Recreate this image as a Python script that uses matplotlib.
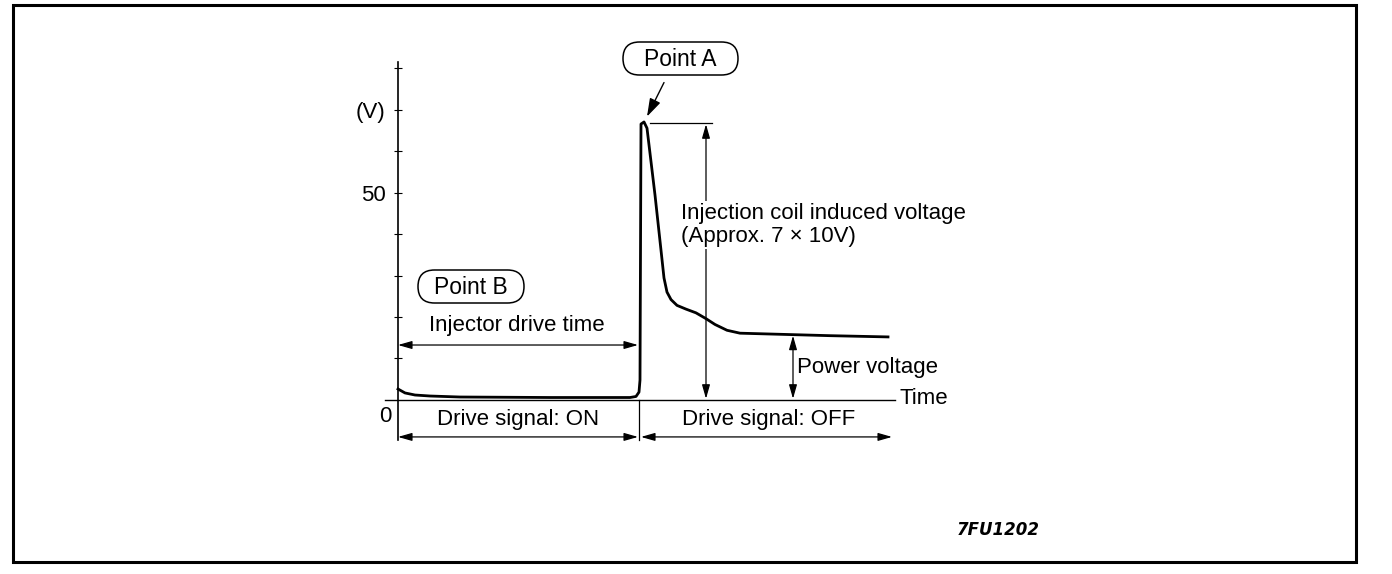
import matplotlib
matplotlib.use('Agg')
import matplotlib.pyplot as plt
from matplotlib.patches import FancyBboxPatch, Rectangle
from matplotlib.transforms import IdentityTransform

plt.rcParams['font.family'] = ['Liberation Sans', 'DejaVu Sans']

W, H = 1392, 574

# injector voltage waveform (time in arbitrary units, volts)
time_pts = [0, 0.7, 1.7, 3.2, 6.2, 15.2, 23.2, 23.8, 24.1, 24.2, 24.3, 24.6,
            24.9, 25.7, 26.3, 26.6, 26.9, 27.3, 27.9, 28.8, 29.8, 30.8, 31.7,
            32.9, 34.2, 37.2, 43.2, 49.0]
volts = [2.65, 1.7, 1.2, 0.96, 0.72, 0.6, 0.6, 0.85, 1.9, 4.8, 66.5, 67.0,
         65.5, 49.4, 36.1, 29.4, 26.0, 24.2, 22.8, 21.9, 21.0, 19.6, 18.2,
         16.8, 16.1, 15.9, 15.5, 15.2]

y_ticks = [10, 20, 30, 40, 50, 60, 70, 80]
y_labels = ['', '', '', '', '50', '', '(V)', '']

on_end = 24.0       # end of drive signal ON
off_end = 49.7
peak_v = 66.75
power_v = 15.8
power_t = 39.5
coil_t = 30.8


def fx(x):
    return x / W


def fy(y):
    return 1 - y / H


fig = plt.figure(figsize=(W / 100, H / 100), dpi=100)

# outer frame
fig.add_artist(Rectangle((12.5, H - 561.5), 1343, 557, transform=IdentityTransform(),
                         fill=False, lw=2.2, edgecolor='black'))

ax = fig.add_axes([fx(385), fy(440), 510 / W, 378 / H])
ax.set_xlim(-1.3, 49.7)
ax.set_ylim(-9.64, 81.45)
ax.patch.set_visible(False)
for s in ['top', 'right']:
    ax.spines[s].set_visible(False)
ax.spines['left'].set_position(('data', 0))
ax.spines['bottom'].set_position(('data', 0))
ax.spines['left'].set_linewidth(1.2)
ax.spines['bottom'].set_linewidth(1.0)
ax.set_xticks([])
ax.set_yticks(y_ticks)
ax.set_yticklabels(y_labels, fontsize=16)
ax.tick_params(axis='y', direction='inout', length=6, width=0.8, pad=6)

ax.plot(time_pts, volts, color='black', lw=2.0, solid_joinstyle='round', clip_on=False)


def dim(x0, y0, x1, y1):
    ax.annotate('', xy=(x1, y1), xytext=(x0, y0),
                arrowprops=dict(arrowstyle='<|-|>,head_length=0.7,head_width=0.2',
                                color='black', lw=0.9, shrinkA=0, shrinkB=0,
                                mutation_scale=12),
                annotation_clip=False)


# dimension arrows
dim(0, 13.25, on_end, 13.25)
dim(coil_t, peak_v - 0.3, coil_t, 0.3)
dim(power_t, power_v - 0.3, power_t, 0.3)
dim(0, -8.9, on_end, -8.9)
dim(on_end + 0.3, -8.9, off_end - 0.3, -8.9)
ax.plot([on_end + 0.1, on_end + 0.1], [0, -9.64], color='black', lw=0.9, clip_on=False)
ax.plot([25.2, 31.4], [peak_v, peak_v], color='black', lw=0.9, clip_on=False)

# Point A leader
ax.annotate('', xy=(24.9, 68.3), xytext=(26.6, 76.5),
            arrowprops=dict(arrowstyle='-|>,head_length=1.1,head_width=0.35',
                            color='black', lw=1.0, shrinkA=0, shrinkB=0,
                            mutation_scale=10),
            annotation_clip=False)

# pill boxes
for cx, cy, bw, bh in [(680.5, 58.5, 115, 33), (471, 286.5, 106, 33)]:
    fig.add_artist(FancyBboxPatch((cx - bw / 2, H - cy - bh / 2), bw, bh,
                                  boxstyle='round,pad=0,rounding_size=%g' % (bh / 2),
                                  transform=IdentityTransform(), fill=False,
                                  lw=1.1, edgecolor='black'))
fig.text(fx(680.5), fy(60), 'Point A', fontsize=16.5, ha='center', va='center')
fig.text(fx(471), fy(288), 'Point B', fontsize=16.5, ha='center', va='center')

fig.text(fx(681), fy(225), 'Injection coil induced voltage\n(Approx. 7 \u00d7 10V)',
         fontsize=16, ha='left', va='center', linespacing=1.15,
         bbox=dict(facecolor='white', edgecolor='none', pad=1))
fig.text(fx(797), fy(368), 'Power voltage', fontsize=16, ha='left', va='center')
fig.text(fx(900), fy(399), 'Time', fontsize=16, ha='left', va='center')
fig.text(fx(517), fy(325), 'Injector drive time', fontsize=16, ha='center', va='center')
fig.text(fx(518), fy(419), 'Drive signal: ON', fontsize=16, ha='center', va='center')
fig.text(fx(769), fy(419), 'Drive signal: OFF', fontsize=16, ha='center', va='center')
fig.text(fx(385), fy(417), '0', fontsize=16, ha='center', va='center')
fig.text(fx(998), fy(530), '7FU1202', fontsize=12, ha='center', va='center',
         family='DejaVu Sans', weight='bold', style='italic')

fig.savefig('out.png', dpi=100)
